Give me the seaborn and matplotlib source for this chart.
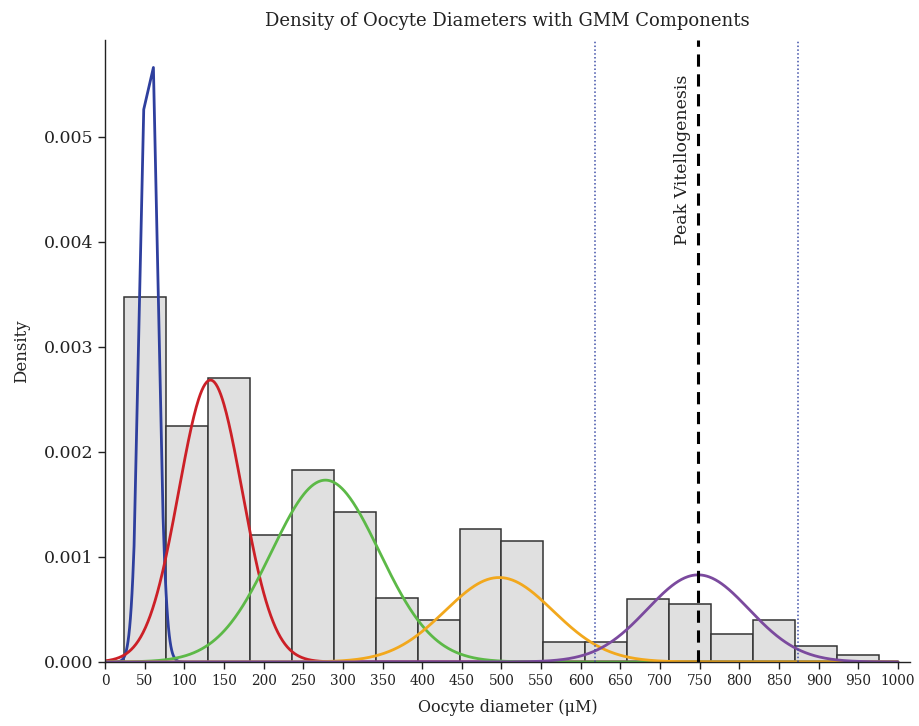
import numpy as np
import pandas as pd
import matplotlib
matplotlib.use("Agg")
import matplotlib.pyplot as plt
import seaborn as sns

# ---- data ----
bin_edges = [24.0, 76.9, 129.8, 182.7, 235.6, 288.4, 341.3, 394.2, 447.1, 500.0,
             552.9, 605.8, 658.7, 711.6, 764.4, 817.3, 870.2, 923.1, 976.0]
bar_density = [0.00347, 0.00225, 0.00270, 0.00121, 0.00183, 0.00143, 0.00061, 0.00040,
               0.00127, 0.00115, 0.00019, 0.00019, 0.00060, 0.00055, 0.00027, 0.00040,
               0.00015, 0.00007]

comp_means = [55.5, 133.0, 278.0, 497.0, 748.0]
comp_sds = [10.0, 40.0, 68.0, 68.0, 64.0]
comp_weights = [0.165, 0.269, 0.295, 0.137, 0.133]
comp_colors = ["#2E3F9E", "#CC2027", "#5CB947", "#F2A81D", "#7B4A9E"]
# the first (narrow) component is only sampled at these diameters near its peak
blue_peak_samples = [36.6, 48.8, 61.0, 73.2]

peak_line = 748.0
bound_lines = [618.0, 874.0]
x_ticks = list(range(0, 1001, 50))
y_ticks = [0.000, 0.001, 0.002, 0.003, 0.004, 0.005]

# ---- figure ----
sns.set_theme(style="white")
plt.rcParams["font.family"] = ["DejaVu Serif", "DejaVu Sans"]

fig = plt.figure(figsize=(9.19, 7.26), dpi=100)
ax = fig.add_axes([0.1143, 0.0882, 0.8757, 0.8567])

centers = [(a + b) / 2 for a, b in zip(bin_edges[:-1], bin_edges[1:])]
hist_df = pd.DataFrame({"x": centers, "w": bar_density})
sns.histplot(data=hist_df, x="x", weights="w", bins=bin_edges, stat="count",
             color="#E0E0E0", edgecolor="#333333", linewidth=1.1, alpha=1.0, ax=ax)

fine = np.linspace(0, 1000, 1001)
lo, hi = blue_peak_samples[0], blue_peak_samples[-1]
blue_grid = np.sort(np.concatenate([fine[(fine < lo) | (fine > hi)], blue_peak_samples]))

for i, (m, s, w, c) in enumerate(zip(comp_means, comp_sds, comp_weights, comp_colors)):
    g = blue_grid if i == 0 else fine
    pdf = w * np.exp(-0.5 * ((g - m) / s) ** 2) / (s * np.sqrt(2 * np.pi))
    sns.lineplot(x=g, y=pdf, color=c, linewidth=2.0, ax=ax, estimator=None, sort=False)

for b in bound_lines:
    ax.axvline(b, color="#3F4FA8", linestyle=(0, (1, 1.5)), linewidth=1.1)
ax.axvline(peak_line, color="black", linestyle=(0, (4, 2.5)), linewidth=2.2)
ax.text(728, 0.00397, "Peak Vitellogenesis", rotation=90, ha="center", va="bottom",
        fontsize=12.5, color="#222222")

ax.set_xlim(0, 1015)
ax.set_ylim(0, 0.00592)
ax.set_xticks(x_ticks)
ax.set_yticks(y_ticks)
ax.set_yticklabels([f"{v:.3f}" for v in y_ticks])
ax.tick_params(axis="x", labelsize=9.8, direction="out", length=5, width=1, colors="#222222")
ax.tick_params(axis="y", labelsize=12.5, direction="out", length=5, width=1, colors="#222222")
ax.tick_params(bottom=True, left=True)
for side in ["top", "right"]:
    ax.spines[side].set_visible(False)
for side in ["left", "bottom"]:
    ax.spines[side].set_color("#222222")
    ax.spines[side].set_linewidth(1.0)

ax.set_xlabel("Oocyte diameter (μM)", fontsize=11.5, color="#222222", labelpad=8)
ax.set_ylabel("Density", fontsize=12, color="#222222", labelpad=10)
ax.set_title("Density of Oocyte Diameters with GMM Components", fontsize=13, color="#222222", pad=10)

fig.savefig("out.png", dpi=100)
